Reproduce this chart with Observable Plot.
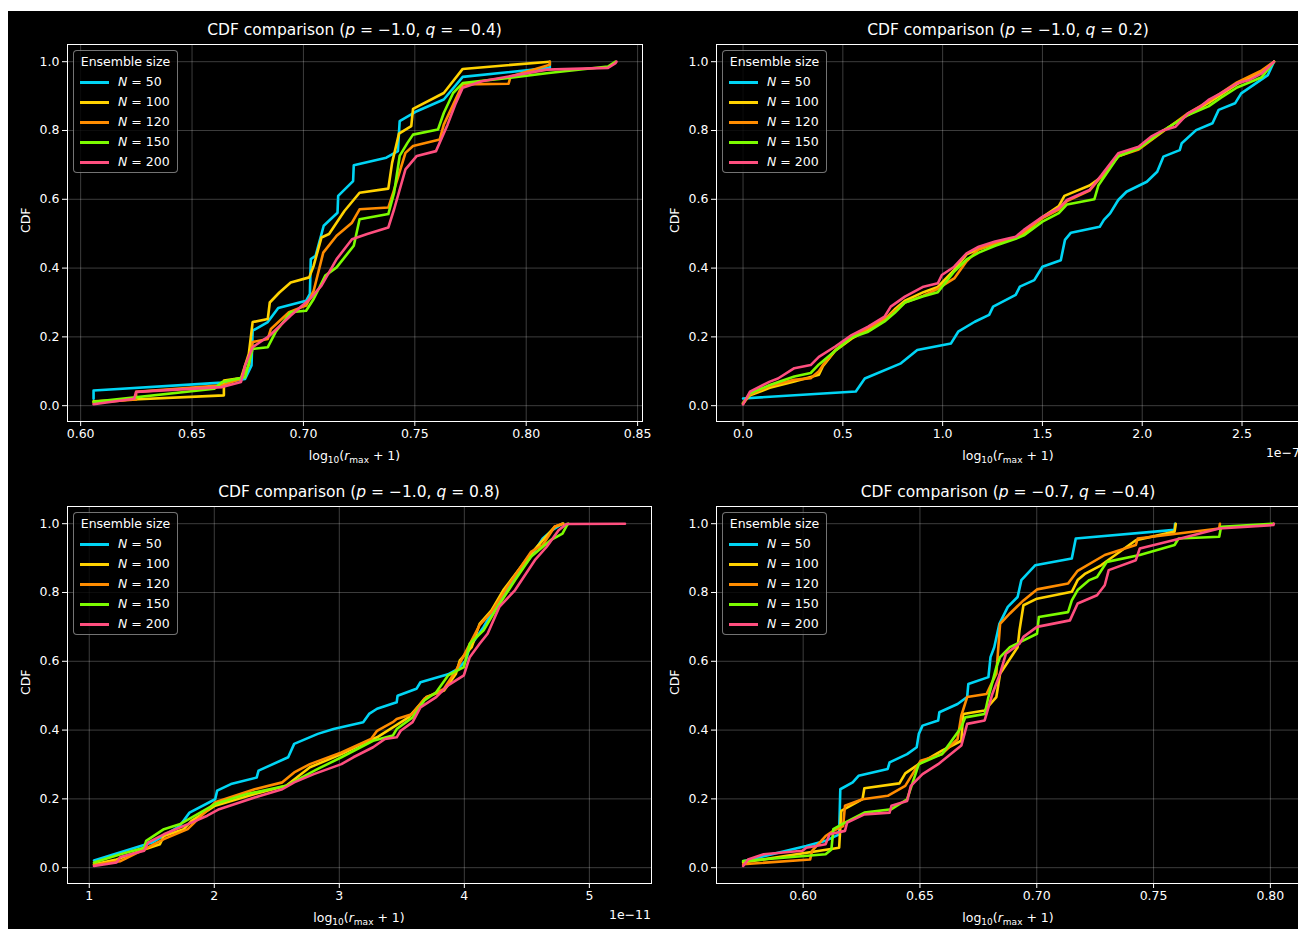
<!DOCTYPE html>
<html>
<head>
<meta charset="utf-8">
<script src="https://cdn.jsdelivr.net/npm/d3@7"></script>
<script src="https://cdn.jsdelivr.net/npm/@observablehq/plot@0.6"></script>
<style>
  html, body { margin: 0; padding: 0; }
  body { width: 1298px; height: 929px; overflow: hidden; background: #fff; position: relative;
         font-family: "DejaVu Sans", sans-serif; color: #fff; }
  #bg { position: absolute; left: 8px; top: 11px; right: 0; bottom: 0; background: #000; }
  .abs { position: absolute; white-space: nowrap; }
  .title { font-size: 15.5px; text-align: center; line-height: 20px; }
  .xlab { font-size: 12.5px; text-align: center; line-height: 18px; }
  .xlab sub { font-size: 9px; vertical-align: -3px; line-height: 0; }
  .off { font-size: 12.5px; text-align: right; line-height: 16px; }
  .legend { position: absolute; width: 105px; height: 123px; box-sizing: border-box;
            border: 1px solid rgba(255,255,255,0.45); border-radius: 4px; background: rgba(0,0,0,0.8); }
  .legend .lt { position: absolute; left: 0; right: 0; top: 2px; text-align: center; font-size: 12.5px; line-height: 18px; }
  .legend .row { position: absolute; left: 0; right: 0; height: 20px; }
  .legend .sw { position: absolute; left: 6px; top: 9px; width: 29px; height: 2.6px; }
  .legend .lab { position: absolute; left: 44px; top: 0; font-size: 12.5px; line-height: 20px; }
  .panel { position: absolute; }
  .panel svg { max-width: none !important; overflow: visible; }
</style>
</head>
<body>
<div id="bg"></div>
<script>
// ---------------- data ----------------
const sizes = [50, 100, 120, 150, 200];
const colors = ["#00d5f5", "#ffd200", "#ff8c00", "#7cfc00", "#ff4f7f"];
const yTicks = [0, 0.2, 0.4, 0.6, 0.8, 1.0];

// Panel 1: p = -1.0, q = -0.4
const tlTicks = [0.60, 0.65, 0.70, 0.75, 0.80, 0.85];
const tl50 = [[0.6058,0.020],[0.6058,0.044],[0.6635,0.067],[0.6738,0.078],[0.6767,0.117],[0.6772,0.218],[0.6840,0.243],[0.6887,0.284],[0.7012,0.305],[0.7029,0.325],[0.7033,0.426],[0.7055,0.436],[0.7091,0.523],[0.7153,0.561],[0.7156,0.610],[0.7223,0.653],[0.7226,0.699],[0.7372,0.721],[0.7424,0.740],[0.7432,0.827],[0.7509,0.856],[0.7630,0.890],[0.7715,0.956],[0.8106,0.982],[0.8106,1.000]];
const tl100 = [[0.6058,0.013],[0.6643,0.030],[0.6643,0.073],[0.6720,0.080],[0.6755,0.151],[0.6772,0.243],[0.6840,0.252],[0.6849,0.300],[0.6892,0.329],[0.6943,0.358],[0.7026,0.373],[0.7046,0.407],[0.7081,0.489],[0.7115,0.499],[0.7184,0.566],[0.7252,0.619],[0.7381,0.631],[0.7398,0.706],[0.7429,0.791],[0.7484,0.813],[0.7492,0.863],[0.7630,0.909],[0.7715,0.979],[0.8106,1.000]];
const tl120 = [[0.6058,0.009],[0.6249,0.018],[0.6249,0.040],[0.6635,0.059],[0.6720,0.078],[0.6755,0.117],[0.6772,0.185],[0.6840,0.194],[0.6854,0.223],[0.6935,0.272],[0.7012,0.291],[0.7046,0.334],[0.7089,0.445],[0.7149,0.494],[0.7218,0.532],[0.7252,0.571],[0.7381,0.576],[0.7403,0.619],[0.7458,0.735],[0.7492,0.755],[0.7612,0.774],[0.7630,0.817],[0.7715,0.934],[0.7921,0.936],[0.7930,0.957],[0.8106,0.991],[0.8106,1.000]];
const tl150 = [[0.6058,0.011],[0.6600,0.049],[0.6635,0.069],[0.6738,0.083],[0.6772,0.165],[0.6840,0.170],[0.6875,0.214],[0.6943,0.272],[0.7012,0.276],[0.7046,0.310],[0.7098,0.378],[0.7149,0.402],[0.7226,0.465],[0.7252,0.542],[0.7381,0.557],[0.7407,0.619],[0.7432,0.726],[0.7467,0.764],[0.7492,0.788],[0.7604,0.803],[0.7630,0.851],[0.7672,0.909],[0.7715,0.938],[0.7921,0.953],[0.8101,0.967],[0.8367,0.986],[0.8401,1.000]];
const tl200 = [[0.6058,0.004],[0.6240,0.020],[0.6249,0.040],[0.6635,0.054],[0.6720,0.069],[0.6738,0.117],[0.6772,0.170],[0.6849,0.204],[0.6943,0.262],[0.7029,0.310],[0.7081,0.349],[0.7149,0.426],[0.7218,0.484],[0.7286,0.499],[0.7381,0.518],[0.7407,0.571],[0.7458,0.687],[0.7509,0.726],[0.7595,0.740],[0.7647,0.817],[0.7681,0.875],[0.7715,0.924],[0.7801,0.943],[0.8093,0.977],[0.8367,0.982],[0.8401,0.996],[0.8405,1.000]];

// Panel 2: p = -1.0, q = 0.2   (x in units of 1e-7)
const trTicks = [0.0, 0.5, 1.0, 1.5, 2.0, 2.5];
const tr50 = [[0,0.021],[0.565,0.041],[0.610,0.079],[0.791,0.123],[0.873,0.162],[1.042,0.181],[1.078,0.215],[1.161,0.244],[1.233,0.264],[1.253,0.288],[1.366,0.322],[1.387,0.346],[1.459,0.365],[1.500,0.404],[1.592,0.423],[1.613,0.482],[1.643,0.503],[1.787,0.520],[1.808,0.540],[1.839,0.559],[1.880,0.598],[1.921,0.622],[2.023,0.651],[2.075,0.680],[2.106,0.724],[2.188,0.743],[2.198,0.763],[2.270,0.801],[2.352,0.821],[2.383,0.860],[2.465,0.879],[2.496,0.908],[2.629,0.961],[2.660,1.000]];
const tr100 = [[0,0.008],[0.035,0.030],[0.134,0.052],[0.257,0.070],[0.380,0.090],[0.400,0.115],[0.462,0.160],[0.544,0.195],[0.627,0.222],[0.709,0.250],[0.760,0.280],[0.811,0.305],[0.904,0.330],[0.976,0.345],[1.058,0.395],[1.120,0.440],[1.181,0.455],[1.263,0.470],[1.366,0.488],[1.407,0.500],[1.500,0.548],[1.582,0.580],[1.610,0.610],[1.736,0.640],[1.797,0.665],[1.880,0.725],[1.982,0.748],[2.106,0.800],[2.229,0.845],[2.332,0.880],[2.475,0.935],[2.599,0.970],[2.660,1.000]];
const tr120 = [[0,0.006],[0.035,0.033],[0.134,0.058],[0.257,0.075],[0.339,0.080],[0.380,0.100],[0.400,0.118],[0.462,0.162],[0.544,0.200],[0.627,0.225],[0.709,0.252],[0.760,0.275],[0.811,0.300],[0.904,0.320],[0.976,0.340],[1.058,0.370],[1.120,0.420],[1.181,0.455],[1.263,0.472],[1.366,0.488],[1.407,0.505],[1.500,0.545],[1.582,0.570],[1.623,0.595],[1.736,0.625],[1.797,0.668],[1.880,0.725],[1.982,0.745],[2.106,0.798],[2.229,0.850],[2.332,0.885],[2.475,0.940],[2.599,0.975],[2.660,1.000]];
const tr150 = [[0,0.006],[0.035,0.036],[0.134,0.060],[0.257,0.085],[0.339,0.095],[0.380,0.120],[0.462,0.160],[0.544,0.198],[0.627,0.215],[0.709,0.245],[0.760,0.270],[0.811,0.300],[0.904,0.318],[0.976,0.330],[1.058,0.390],[1.120,0.425],[1.181,0.445],[1.263,0.465],[1.366,0.485],[1.407,0.495],[1.500,0.535],[1.582,0.560],[1.623,0.585],[1.760,0.600],[1.780,0.640],[1.880,0.725],[1.982,0.748],[2.106,0.800],[2.229,0.845],[2.332,0.870],[2.393,0.895],[2.475,0.925],[2.599,0.955],[2.660,1.000]];
const tr200 = [[0,0.004],[0.035,0.041],[0.134,0.070],[0.175,0.079],[0.257,0.109],[0.339,0.118],[0.380,0.142],[0.462,0.172],[0.544,0.205],[0.627,0.230],[0.709,0.259],[0.740,0.288],[0.811,0.317],[0.904,0.346],[0.976,0.356],[0.996,0.380],[1.058,0.404],[1.120,0.443],[1.181,0.462],[1.263,0.477],[1.366,0.491],[1.407,0.511],[1.500,0.549],[1.582,0.574],[1.623,0.598],[1.736,0.627],[1.797,0.671],[1.880,0.734],[1.982,0.753],[2.044,0.782],[2.106,0.801],[2.167,0.811],[2.229,0.850],[2.290,0.869],[2.332,0.889],[2.393,0.908],[2.475,0.937],[2.537,0.947],[2.599,0.966],[2.660,1.000]];

// Panel 3: p = -1.0, q = 0.8   (x in units of 1e-11)
const blTicks = [1, 2, 3, 4, 5];
const bl50 = [[1.038,0.021],[1.502,0.073],[1.723,0.121],[1.802,0.160],[2.007,0.199],[2.023,0.224],[2.133,0.243],[2.339,0.262],[2.354,0.282],[2.591,0.321],[2.639,0.360],[2.828,0.389],[2.954,0.403],[3.191,0.423],[3.238,0.447],[3.302,0.462],[3.459,0.481],[3.466,0.500],[3.617,0.520],[3.649,0.539],[3.870,0.562],[3.949,0.578],[4.012,0.603],[4.043,0.641],[4.154,0.700],[4.280,0.777],[4.406,0.845],[4.533,0.904],[4.627,0.957],[4.706,0.982],[4.785,1.000]];
const bl100 = [[1.038,0.010],[1.218,0.024],[1.439,0.053],[1.565,0.068],[1.597,0.092],[1.755,0.112],[1.818,0.136],[2.007,0.180],[2.323,0.214],[2.575,0.238],[2.765,0.292],[3.017,0.330],[3.207,0.364],[3.302,0.379],[3.554,0.437],[3.696,0.496],[3.838,0.515],[3.933,0.564],[3.964,0.603],[4.059,0.641],[4.122,0.709],[4.217,0.748],[4.312,0.807],[4.533,0.913],[4.722,0.991],[4.792,1.000]];
const bl120 = [[1.038,0.008],[1.250,0.019],[1.439,0.053],[1.597,0.083],[1.787,0.112],[2.007,0.190],[2.323,0.228],[2.544,0.248],[2.639,0.277],[2.765,0.301],[3.017,0.335],[3.254,0.374],[3.302,0.398],[3.428,0.423],[3.459,0.432],[3.586,0.447],[3.680,0.491],[3.838,0.520],[3.933,0.573],[4.059,0.661],[4.122,0.705],[4.217,0.743],[4.343,0.816],[4.533,0.918],[4.627,0.938],[4.722,0.991],[4.785,1.000]];
const bl150 = [[1.038,0.015],[1.250,0.039],[1.439,0.058],[1.455,0.078],[1.597,0.112],[1.723,0.126],[2.007,0.185],[2.260,0.214],[2.575,0.238],[2.828,0.287],[3.017,0.321],[3.270,0.369],[3.428,0.384],[3.459,0.403],[3.586,0.437],[3.680,0.486],[3.775,0.510],[3.870,0.559],[3.996,0.583],[4.043,0.651],[4.154,0.690],[4.249,0.748],[4.406,0.836],[4.533,0.904],[4.690,0.952],[4.785,0.971],[4.817,0.993],[4.830,1.000]];
const bl200 = [[1.038,0.005],[1.218,0.015],[1.250,0.031],[1.439,0.049],[1.470,0.073],[1.597,0.097],[1.818,0.131],[1.944,0.151],[2.039,0.170],[2.323,0.204],[2.544,0.228],[2.639,0.248],[2.796,0.272],[3.017,0.301],[3.112,0.321],[3.270,0.350],[3.365,0.374],[3.459,0.379],[3.491,0.398],[3.586,0.423],[3.649,0.466],[3.775,0.496],[3.870,0.530],[3.996,0.559],[4.043,0.612],[4.122,0.651],[4.186,0.680],[4.280,0.758],[4.406,0.807],[4.564,0.894],[4.659,0.933],[4.754,0.981],[4.817,0.999],[5.285,1.000]];

// Panel 4: p = -0.7, q = -0.4
const brTicks = [0.60, 0.65, 0.70, 0.75, 0.80];
const br50 = [[0.5743,0.019],[0.6013,0.063],[0.6096,0.078],[0.6154,0.097],[0.6159,0.228],[0.6212,0.248],[0.6237,0.267],[0.6362,0.287],[0.6370,0.306],[0.6445,0.330],[0.6486,0.350],[0.6495,0.389],[0.6511,0.413],[0.6578,0.428],[0.6583,0.452],[0.6661,0.476],[0.6702,0.496],[0.6707,0.534],[0.6793,0.554],[0.6802,0.612],[0.6818,0.641],[0.6840,0.709],[0.6876,0.758],[0.6918,0.787],[0.6934,0.836],[0.6993,0.879],[0.7150,0.899],[0.7167,0.957],[0.7590,0.982],[0.7592,1.000]];
const br100 = [[0.5743,0.015],[0.6154,0.058],[0.6163,0.165],[0.6254,0.199],[0.6262,0.231],[0.6412,0.245],[0.6437,0.274],[0.6495,0.301],[0.6594,0.340],[0.6677,0.369],[0.6685,0.447],[0.6777,0.457],[0.6827,0.496],[0.6843,0.564],[0.6918,0.641],[0.6926,0.690],[0.6943,0.763],[0.7001,0.782],[0.7150,0.802],[0.7175,0.836],[0.7208,0.855],[0.7275,0.879],[0.7424,0.952],[0.7590,0.977],[0.7595,1.000]];
const br120 = [[0.5743,0.010],[0.6030,0.024],[0.6038,0.049],[0.6096,0.092],[0.6129,0.107],[0.6171,0.121],[0.6179,0.180],[0.6254,0.199],[0.6362,0.209],[0.6437,0.238],[0.6503,0.311],[0.6594,0.330],[0.6661,0.374],[0.6677,0.442],[0.6702,0.496],[0.6785,0.505],[0.6827,0.564],[0.6843,0.709],[0.6885,0.739],[0.6943,0.777],[0.7001,0.809],[0.7134,0.826],[0.7175,0.863],[0.7291,0.909],[0.7424,0.938],[0.7432,0.957],[0.7781,0.986],[0.7784,1.000]];
const br150 = [[0.5743,0.019],[0.6096,0.039],[0.6121,0.053],[0.6129,0.112],[0.6179,0.131],[0.6262,0.160],[0.6378,0.170],[0.6445,0.199],[0.6495,0.301],[0.6594,0.330],[0.6677,0.408],[0.6694,0.437],[0.6777,0.447],[0.6793,0.496],[0.6827,0.583],[0.6843,0.612],[0.6885,0.641],[0.7001,0.680],[0.7009,0.729],[0.7134,0.743],[0.7150,0.777],[0.7175,0.807],[0.7225,0.836],[0.7258,0.845],[0.7300,0.889],[0.7441,0.909],[0.7590,0.938],[0.7607,0.957],[0.7781,0.962],[0.7789,0.991],[0.8013,1.000]];
const br200 = [[0.5743,0.005],[0.5764,0.024],[0.5831,0.039],[0.5997,0.049],[0.6013,0.058],[0.6096,0.068],[0.6113,0.097],[0.6179,0.107],[0.6188,0.131],[0.6262,0.155],[0.6370,0.160],[0.6378,0.180],[0.6445,0.194],[0.6461,0.238],[0.6511,0.272],[0.6578,0.301],[0.6677,0.355],[0.6702,0.418],[0.6777,0.428],[0.6810,0.505],[0.6843,0.564],[0.6868,0.622],[0.6926,0.651],[0.6943,0.671],[0.7001,0.700],[0.7142,0.719],[0.7175,0.768],[0.7258,0.792],[0.7291,0.821],[0.7308,0.865],[0.7424,0.894],[0.7441,0.928],[0.7615,0.957],[0.7781,0.986],[0.8013,0.996],[0.8015,1.000]];

// ---------------- layout ----------------
const panels = [
  {left: 0,   top: 0,   w: 660, h: 470, frame: [67, 642, 44, 421],  xDomain: [0.5941, 0.8522], ticks: tlTicks, fmt: ".2f",
   p: "−1.0", q: "−0.4", offset: null, series: [tl50, tl100, tl120, tl150, tl200]},
  {left: 660, top: 0,   w: 660, h: 470, frame: [716, 1300, 44, 421], xDomain: [-0.133, 2.793], ticks: trTicks, fmt: ".1f",
   p: "−1.0", q: "0.2", offset: "1e−7", series: [tr50, tr100, tr120, tr150, tr200]},
  {left: 0,   top: 462, w: 660, h: 470, frame: [67, 651, 506, 883], xDomain: [0.826, 5.497], ticks: blTicks, fmt: "d",
   p: "−1.0", q: "0.8", offset: "1e−11", series: [bl50, bl100, bl120, bl150, bl200]},
  {left: 660, top: 462, w: 660, h: 470, frame: [716, 1300, 506, 883], xDomain: [0.5629, 0.8129], ticks: brTicks, fmt: ".2f",
   p: "−0.7", q: "−0.4", offset: null, series: [br50, br100, br120, br150, br200]}
];

function el(tag, cls, css, html) {
  const e = document.createElement(tag);
  if (cls) e.className = cls;
  Object.assign(e.style, css);
  if (html != null) e.innerHTML = html;
  document.body.appendChild(e);
  return e;
}

for (const P of panels) {
  const [fL, fR, fT, fB] = P.frame;
  const marks = [
    Plot.ruleX(P.ticks, {stroke: "#fff", strokeOpacity: 0.3, strokeWidth: 0.8}),
    Plot.ruleY(yTicks, {stroke: "#fff", strokeOpacity: 0.3, strokeWidth: 0.8}),
    ...P.series.map((s, i) => Plot.line(s, {x: d => d[0], y: d => d[1], stroke: colors[i],
        strokeWidth: 2.6, strokeLinejoin: "round"})),
    Plot.frame({stroke: "#fff", strokeWidth: 1}),
    Plot.text(["CDF"], {frameAnchor: "left", rotate: -90, dx: -42, fill: "#fff", fontSize: 12.5})
  ];
  const chart = Plot.plot({
    width: P.w, height: P.h,
    marginLeft: fL - P.left, marginRight: P.left + P.w - fR,
    marginTop: fT - P.top, marginBottom: P.top + P.h - fB,
    style: {background: "transparent", color: "#fff", fontFamily: "DejaVu Sans, sans-serif", fontSize: "12.5px", overflow: "visible"},
    x: {domain: P.xDomain, ticks: P.ticks, tickFormat: d3.format(P.fmt), tickSize: 5, tickPadding: 3, label: null},
    y: {domain: [-0.046, 1.05], ticks: yTicks, tickFormat: d3.format(".1f"), tickSize: 5, tickPadding: 3, label: null},
    marks
  });
  const holder = el("div", "panel", {left: P.left + "px", top: P.top + "px", width: P.w + "px", height: P.h + "px"});
  holder.appendChild(chart);

  const cx = (fL + fR) / 2;
  el("div", "abs title", {left: (cx - 300) + "px", width: "600px", top: (P.top + 20) + "px"},
     `CDF comparison (<i>p</i> = ${P.p}, <i>q</i> = ${P.q})`);
  el("div", "abs xlab", {left: (cx - 200) + "px", width: "400px", top: (fB + 26) + "px"},
     `log<sub>10</sub>(<i>r</i><sub>max</sub> + 1)`);
  if (P.offset) {
    el("div", "abs off", {left: (fR - 100) + "px", width: "100px", top: (fB + 24) + "px"}, P.offset);
  }
  // legend
  const lg = el("div", "legend", {left: (fL + 6) + "px", top: (fT + 6) + "px"});
  const t = document.createElement("div"); t.className = "lt"; t.textContent = "Ensemble size"; lg.appendChild(t);
  sizes.forEach((n, i) => {
    const r = document.createElement("div"); r.className = "row"; r.style.top = (21 + i * 20) + "px";
    r.innerHTML = `<div class="sw" style="background:${colors[i]}"></div><div class="lab"><i>N</i> = ${n}</div>`;
    lg.appendChild(r);
  });
}
</script>
</body>
</html>
